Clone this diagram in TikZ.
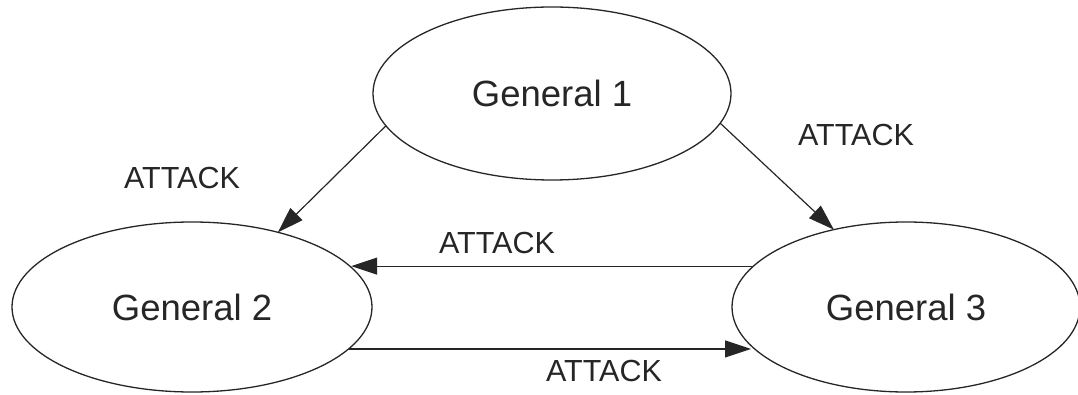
\documentclass[tikz,border=0pt]{standalone}
\usepackage{fontspec}
\setmainfont{Liberation Sans}
\usetikzlibrary{shapes.geometric,arrows.meta}

\tikzset{
  general/.style={ellipse, draw=black!85, line width=1.3pt, inner sep=0pt, outer sep=0pt,
    text=black!85, font=\fontsize{36.5}{40}\selectfont},
  msg/.style={draw=black!85, line width=1.2pt,
    -{Triangle[length=26pt,width=17pt]}},
  msglabel/.style={text=black!85, inner sep=0pt, font=\fontsize{30.5}{34}\selectfont}
}

\begin{document}
\begin{tikzpicture}[x=1pt,y=-1pt]
  \useasboundingbox (0,0) rectangle (1078,395);

  % the three generals
  \node[general, minimum width=358pt, minimum height=173pt] (g1) at (552,93.5) {General 1};
  \node[general, minimum width=360pt, minimum height=170pt] (g2) at (192,307) {General 2};
  \node[general, minimum width=348pt, minimum height=170pt] (g3) at (906,307) {General 3};

  % messages
  \draw[msg] (g1.191.8) -- (g2.41.5);
  \draw[msg] (g1.350.3) -- (g3.133.1);
  \draw[msg] (g3.165.4) -- (g2.14.1 |- g3.165.4);
  \draw[msg] (g2.345.9) -- (g3.194.6 |- g2.345.9);

  % labels
  \node[msglabel] (l12) at (182,178) {ATTACK};
  \node[msglabel] (l13) at (856,135) {ATTACK};
  \node[msglabel] (l32) at (497,243) {ATTACK};
  \node[msglabel] (l23) at (604,371) {ATTACK};
\end{tikzpicture}
\end{document}
